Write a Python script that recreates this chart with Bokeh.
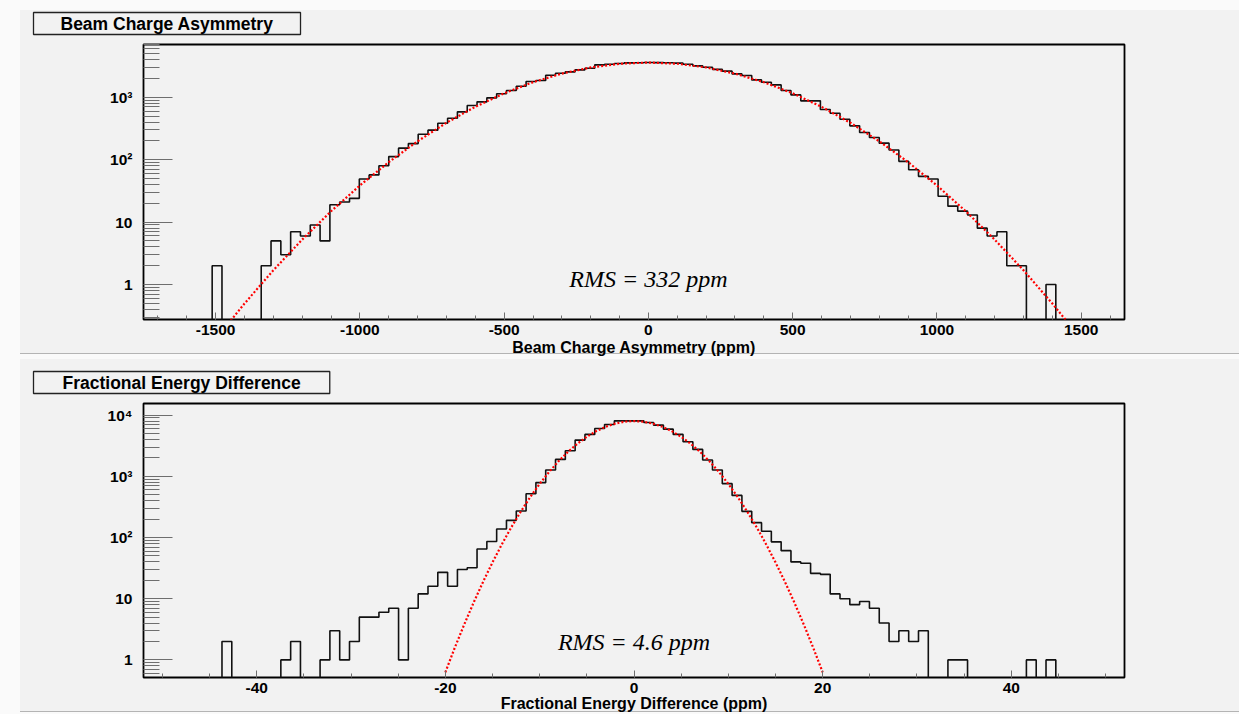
import numpy as np
from bokeh.plotting import figure
from bokeh.models import FixedTicker, Label, Range1d
from bokeh.layouts import column
from bokeh.embed import file_html
from bokeh.resources import INLINE

# ---------------- Beam charge asymmetry (ppm) ----------------
charge_first_edge = -1750.0
charge_bin_width = 34.0
charge_counts = [
    0, 0, 0, 0, 0, 0, 0, 2, 0, 0,
    0, 0, 2, 5, 3, 7, 6, 9, 5, 19,
    21, 24, 49, 57, 80, 112, 153, 181, 256, 297,
    384, 461, 584, 737, 844, 978, 1135, 1280, 1503, 1785,
    1853, 2254, 2426, 2553, 2749, 2918, 3303, 3381, 3467, 3556,
    3580, 3600, 3590, 3570, 3520, 3381, 3186, 3030, 2800, 2620,
    2366, 2227, 1898, 1741, 1578, 1280, 1090, 875, 875, 635,
    555, 445, 348, 272, 226, 184, 143, 94, 69, 54,
    49, 26, 18, 15, 13, 8, 6, 7, 2, 2,
    0, 0, 1, 0, 0, 0, 0, 0, 0, 0,
]
charge_fit_x = [-1500, -1400, -1300, -1200, -1100, -1000, -900, -800, -700, -600,
                -500, -400, -300, -200, -100, 0, 100, 200, 300, 400,
                500, 600, 700, 800, 900, 1000, 1100, 1200, 1300, 1400, 1500]
charge_fit_y = [0.133, 0.495, 1.69, 5.24, 14.9, 38.6, 91.3, 197, 390, 703,
                1158, 1742, 2393, 3003, 3441, 3600, 3441, 3003, 2393, 1742,
                1158, 703, 390, 197, 91.3, 38.6, 14.9, 5.24, 1.69, 0.495, 0.133]
charge_x_ticks = [-1500, -1000, -500, 0, 500, 1000, 1500]
charge_y_ticks = [1, 10, 100, 1000]
charge_y_labels = {1: "1", 10: "10", 100: "10²", 1000: "10³"}

# ---------------- Fractional energy difference (ppm) ----------------
energy_first_edge = -52.0
energy_bin_width = 1.04
energy_counts = [
    0, 0, 0, 0, 0, 0, 0, 0, 2, 0,
    0, 0, 0, 0, 1, 2, 0, 0, 1, 3,
    1, 2, 5, 5, 6, 7, 1, 7, 12, 16,
    27, 16, 30, 32, 65, 86, 138, 191, 271, 520,
    790, 1267, 1893, 2617, 3909, 4842, 6067, 7047, 8075, 8075,
    8075, 7594, 6868, 5907, 4842, 3670, 2755, 1845, 1267, 760,
    488, 268, 175, 127, 85, 61, 40, 38, 26, 25,
    12, 10, 8, 9, 7, 4, 2, 3, 2, 3,
    0, 0, 1, 1, 0, 0, 0, 0, 0, 0,
    1, 0, 1, 0, 0, 0, 0, 0, 0, 0,
]
energy_fit_x = [-20, -19, -18, -17, -16, -15, -14, -13, -12, -11,
                -10, -9, -8, -7, -6, -5, -4, -3, -2, -1,
                0, 1, 2, 3, 4, 5, 6, 7, 8, 9,
                10, 11, 12, 13, 14, 15, 16, 17, 18, 19, 20]
energy_fit_y = [0.628, 1.58, 3.79, 8.66, 18.9, 39.3, 77.9, 147.5, 266, 459,
                753, 1180, 1763, 2513, 3417, 4431, 5482, 6467, 7279, 7813,
                8000, 7813, 7279, 6467, 5482, 4431, 3417, 2513, 1763, 1180,
                753, 459, 266, 147.5, 77.9, 39.3, 18.9, 8.66, 3.79, 1.58, 0.628]
energy_x_ticks = [-40, -20, 0, 20, 40]
energy_y_ticks = [1, 10, 100, 1000, 10000]
energy_y_labels = {1: "1", 10: "10", 100: "10²", 1000: "10³", 10000: "10⁴"}

PAD_BG = "#f2f2f2"
OUTER_BG = "#fafafa"
RULE = "#b4b4b4"
SANS = "Liberation Sans"
SERIF = "Liberation Serif"


def log_minor_ticks(lo, hi):
    ticks = []
    decade = 10.0 ** np.floor(np.log10(lo))
    while decade < hi:
        for m in range(2, 10):
            t = m * decade
            if lo <= t <= hi:
                ticks.append(t)
        decade *= 10
    return ticks


def pad_background(pad_top, rule_at):
    # light canvas strip, grey pad, then a thin rule under the pad
    return ("linear-gradient(to bottom, "
            f"{OUTER_BG} 0px, {OUTER_BG} {pad_top}px, "
            f"{PAD_BG} {pad_top}px, {PAD_BG} {rule_at}px, "
            f"{RULE} {rule_at}px, {RULE} {rule_at + 1}px, "
            f"{OUTER_BG} {rule_at + 1}px)")


def histogram_panel(counts, first_edge, bin_width, fit_x, fit_y,
                    x_range, y_range, x_ticks, x_minor, y_ticks, y_labels,
                    title, x_title, rms_text, height, border_top,
                    border_bottom, title_pad, rms_y, xlabel_standoff,
                    pad_top, rule_at):
    p = figure(width=1219, height=height, title=title,
               x_range=Range1d(*x_range), y_range=Range1d(*y_range),
               y_axis_type="log", output_backend="svg",
               toolbar_location=None,
               min_border_left=123, min_border_right=115,
               min_border_top=border_top, min_border_bottom=border_bottom,
               background_fill_color=PAD_BG, border_fill_color=None,
               outline_line_color="black", outline_line_width=1.8)
    p.styles = {"background": pad_background(pad_top, rule_at)}
    p.grid.visible = False

    # histogram outline as a step path; empty bins sit below the frame
    counts = np.asarray(counts, dtype=float)
    edges = first_edge + bin_width * np.arange(len(counts) + 1)
    floor = y_range[0] * 0.2
    shown = np.where(counts > 0, counts, floor)
    xs = np.concatenate([[edges[0]], np.repeat(edges, 2)[1:-1], [edges[-1]]])
    ys = np.concatenate([[floor], np.repeat(shown, 2), [floor]])
    p.line(xs, ys, line_color="#111111", line_width=1.6)

    # gaussian fit
    p.line(fit_x, fit_y, line_color="#ff0000", line_width=2.2,
           line_dash="2 2")

    xa, ya = p.xaxis[0], p.yaxis[0]
    xa.ticker = FixedTicker(ticks=x_ticks, minor_ticks=x_minor)
    xa.major_label_overrides = {t: str(t) for t in x_ticks}
    ya.ticker = FixedTicker(ticks=y_ticks,
                            minor_ticks=log_minor_ticks(*y_range))
    ya.major_label_overrides = y_labels
    for ax in (xa, ya):
        ax.axis_line_color = None
        ax.major_tick_out = 0
        ax.minor_tick_out = 0
        ax.major_tick_line_color = "#6e6e6e"
        ax.minor_tick_line_color = "#6e6e6e"
        ax.major_label_text_font = SANS
        ax.major_label_text_font_style = "bold"
        ax.major_label_text_font_size = "15.5px"
        ax.major_label_text_color = "black"
    xa.major_tick_in = 7
    xa.minor_tick_in = 4
    xa.major_label_standoff = 5
    ya.major_tick_in = 29
    ya.minor_tick_in = 16
    ya.major_label_standoff = 11

    # x axis title
    xa.axis_label = x_title
    xa.axis_label_text_font = SANS
    xa.axis_label_text_font_style = "bold"
    xa.axis_label_text_font_size = "16px"
    xa.axis_label_text_color = "black"
    xa.axis_label_standoff = xlabel_standoff

    # boxed panel title
    t = p.title
    t.align = "left"
    t.offset = -110
    t.standoff = 20
    t.text_font = SANS
    t.text_font_style = "bold"
    t.text_font_size = "17.5px"
    t.text_color = "black"
    t.background_fill_color = PAD_BG
    t.border_line_color = "#222222"
    t.border_line_width = 1.3
    t.padding = (title_pad, 1)

    # RMS annotation
    p.add_layout(Label(x=0, y=rms_y, x_units="data", y_units="screen",
                       text=rms_text, text_align="center",
                       text_baseline="alphabetic", text_font=SERIF,
                       text_font_style="italic", text_font_size="24px",
                       text_color="black"))
    return p


p1 = histogram_panel(
    charge_counts, charge_first_edge, charge_bin_width,
    charge_fit_x, charge_fit_y,
    x_range=(-1750, 1650), y_range=(0.275, 7000),
    x_ticks=charge_x_ticks, x_minor=list(range(-1700, 1700, 100)),
    y_ticks=charge_y_ticks, y_labels=charge_y_labels,
    title="Beam Charge Asymmetry",
    x_title="Beam Charge Asymmetry (ppm)",
    rms_text="RMS = 332 ppm",
    height=359, border_top=44, border_bottom=40,
    title_pad=27, rms_y=41, xlabel_standoff=1,
    pad_top=10, rule_at=353)
p1.margin = (0, 0, 0, 20)

p2 = histogram_panel(
    energy_counts, energy_first_edge, energy_bin_width,
    energy_fit_x, energy_fit_y,
    x_range=(-52, 52), y_range=(0.516, 15500),
    x_ticks=energy_x_ticks, x_minor=list(range(-50, 55, 5)),
    y_ticks=energy_y_ticks, y_labels=energy_y_labels,
    title="Fractional Energy Difference",
    x_title="Fractional Energy Difference (ppm)",
    rms_text="RMS = 4.6 ppm",
    height=355, border_top=44, border_bottom=36,
    title_pad=29, rms_y=36, xlabel_standoff=-1,
    pad_top=0, rule_at=352)
p2.margin = (0, 0, 0, 20)

page = column(p1, p2, spacing=0, styles={"background-color": OUTER_BG})

open("out.html", "w").write(file_html(page, INLINE))
